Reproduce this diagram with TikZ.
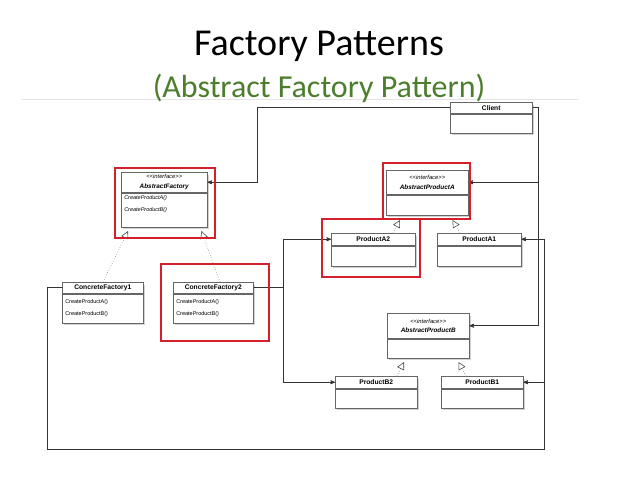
\documentclass[tikz,border=0pt]{standalone}
\usepackage{fontspec}
\setmainfont{Carlito}
\setsansfont{Liberation Sans}
\usepackage{tikz}
\usetikzlibrary{positioning,calc,shadows,arrows,arrows.meta}
\definecolor{subgreen}{RGB}{76,126,46}
\definecolor{hired}{RGB}{212,32,42}
\tikzset{
  shade/.style   = {drop shadow={shadow xshift=2pt, shadow yshift=-2.4pt, opacity=.35}},
  head/.style    = {draw=black!60, fill=white, inner sep=0pt, anchor=north west,
                    line width=0.5pt, shade,
                    font=\sffamily\bfseries\fontsize{6.7}{7}\selectfont},
  iface/.style   = {head, align=center,
                    font=\sffamily\bfseries\itshape\fontsize{6.4}{9.5}\selectfont},
  body/.style    = {draw=black!60, fill=white, inner sep=0pt, anchor=north,
                    line width=0.5pt, shade},
  methods/.style = {body, align=left, inner xsep=3pt,
                    font=\sffamily\fontsize{5.5}{11.5}\selectfont},
  assoc/.style   = {->, >=stealth', draw=black!80, line width=0.7pt},
  realize/.style = {-{Triangle[open, length=7.5pt, width=7.5pt, color=black!75]},
                    draw=black!55, dotted, line width=0.55pt},
  hilite/.style  = {draw=hired, line width=1.2pt}
}
\newcommand{\ifacetag}{{\mdseries\fontsize{5.8}{9.5}\selectfont <{}<interface>{}>}}

\begin{document}
\begin{tikzpicture}[x=1pt,y=-1pt]
  \fill[white] (0,0) rectangle (638,479);
  \useasboundingbox (0,0) rectangle (638,479);

  \draw[black!10, line width=0.6pt] (22,99) -- (578,99);
  \node[font=\fontsize{38}{40}\selectfont, anchor=base] (title) at (319,56) {Factory Patterns};
  \node[font=\fontsize{32}{34}\selectfont, text=subgreen, anchor=base] (subtitle) at (319,97)
       {(Abstract Factory Pattern)};

  \node[head, minimum width=82pt, minimum height=11pt] (client) at (450,102) {Client};
  \node[body, minimum width=82pt, minimum height=19pt] (client-b) at (client.south) {};

  \node[iface, minimum width=86pt, minimum height=20pt] (af) at (121,172) {\ifacetag\\AbstractFactory};
  \node[methods, text width=80pt, minimum height=34pt, font=\sffamily\itshape\fontsize{5.5}{12.5}\selectfont]
       (af-b) at (af.south) {CreateProductA()\\CreateProductB()\\\mbox{}};

  \node[iface, minimum width=82pt, minimum height=24pt] (apa) at (386,170) {\ifacetag\\AbstractProductA};
  \node[body, minimum width=82pt, minimum height=20pt] (apa-b) at (apa.south) {};

  \node[head, minimum width=84pt, minimum height=12pt] (pa2) at (331,233) {ProductA2};
  \node[body, minimum width=84pt, minimum height=20pt] (pa2-b) at (pa2.south) {};

  \node[head, minimum width=84pt, minimum height=12pt] (pa1) at (437,233) {ProductA1};
  \node[body, minimum width=84pt, minimum height=20pt] (pa1-b) at (pa1.south) {};

  \node[iface, minimum width=82pt, minimum height=25pt] (apb) at (387,313) {\ifacetag\\AbstractProductB};
  \node[body, minimum width=82pt, minimum height=19pt] (apb-b) at (apb.south) {};

  \node[head, minimum width=82pt, minimum height=12pt] (pb2) at (335,376) {ProductB2};
  \node[body, minimum width=82pt, minimum height=19pt] (pb2-b) at (pb2.south) {};

  \node[head, minimum width=82pt, minimum height=12pt] (pb1) at (441,376) {ProductB1};
  \node[body, minimum width=82pt, minimum height=19pt] (pb1-b) at (pb1.south) {};

  \node[head, minimum width=81pt, minimum height=11pt] (cf1) at (62,282) {ConcreteFactory1};
  \node[methods, text width=75pt, minimum height=29pt] (cf1-b) at (cf1.south)
       {CreateProductA()\\CreateProductB()};

  \node[head, minimum width=80pt, minimum height=11pt] (cf2) at (173,282) {ConcreteFactory2};
  \node[methods, text width=74pt, minimum height=29pt] (cf2-b) at (cf2.south)
       {CreateProductA()\\CreateProductB()};

  \coordinate (sw) at (47,449);

  \draw[assoc] (client.west) -| ([xshift=50pt]af.east) -- (af.east);
  \draw[assoc] (client.east) -| ([xshift=69pt]apb.east) -- (apb.east);
  \draw[assoc] ([xshift=70pt]apa.east) -- (apa.east);
  \draw[assoc] (cf2.east) -- ++(30,0) |- (pa2.west);
  \draw[assoc] (cf2.east) -- ++(30,0) |- (pb2.west);
  \draw[assoc] (cf1.west) -| (sw) -| ([xshift=23pt]pa1.east) -- (pa1.east);
  \draw[assoc] ([xshift=21pt]pb1.east) -- (pb1.east);

  \draw[realize] ([xshift=41pt]cf1.north west) -- ([xshift=7pt,yshift=-4pt]af-b.south west);
  \draw[realize] ([xshift=47pt]cf2.north west) -- ([xshift=-6pt,yshift=-4pt]af-b.south east);
  \draw[realize] ([xshift=62pt]pa2.north west) -- ([xshift=14pt,yshift=-5pt]apa-b.south west);
  \draw[realize] ([xshift=23pt]pa1.north west) -- ([xshift=-16pt,yshift=-5pt]apa-b.south east);
  \draw[realize] ([xshift=62pt]pb2.north west) -- ([xshift=17pt,yshift=-4pt]apb-b.south west);
  \draw[realize] ([xshift=25pt]pb1.north west) -- ([xshift=-11pt,yshift=-4pt]apb-b.south east);

  \draw[hilite] (115,168) rectangle (215,238);
  \draw[hilite] (383,163) rectangle (470,219);
  \draw[hilite] (322,219) rectangle (420,277);
  \draw[hilite] (161,264) rectangle (269,341);
\end{tikzpicture}
\end{document}
